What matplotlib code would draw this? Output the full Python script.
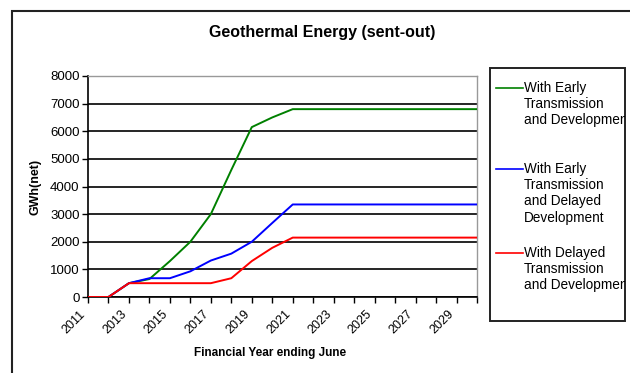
import matplotlib
matplotlib.use('Agg')
import matplotlib.pyplot as plt
from matplotlib.patches import Rectangle
from matplotlib.lines import Line2D

plt.rcParams['font.family'] = ['Liberation Sans', 'DejaVu Sans']

# data (GWh net, financial year ending June)
years = list(range(2011, 2031))
early_tx_early_dev = [0, 0, 500, 650, 1300, 2000, 3000, 4600, 6150, 6500, 6800,
                      6800, 6800, 6800, 6800, 6800, 6800, 6800, 6800, 6800]
early_tx_delayed_dev = [0, 0, 500, 680, 680, 930, 1320, 1570, 2000, 2680, 3350,
                        3350, 3350, 3350, 3350, 3350, 3350, 3350, 3350, 3350]
delayed_tx_delayed_dev = [0, 0, 500, 500, 500, 500, 500, 680, 1300, 1780, 2150,
                          2150, 2150, 2150, 2150, 2150, 2150, 2150, 2150, 2150]
series_labels = ['With Early\nTransmission\nand Development',
                 'With Early\nTransmission\nand Delayed\nDevelopment',
                 'With Delayed\nTransmission\nand Development']
series_colors = ['#008000', '#0000ff', '#ff0000']
tick_labels = [str(y) if (y - 2011) % 2 == 0 else '' for y in years]

W, H = 630, 373
def fx(px):
    return px / W
def fy(py):
    return 1 - py / H

fig = plt.figure(figsize=(6.3, 3.73), dpi=100)

# outer frame (left + top edges visible)
frame = Rectangle((fx(12), -0.1), 1.2, fy(11) + 0.1, transform=fig.transFigure,
                  fill=False, lw=1.5, ec='#222222')
fig.add_artist(frame)

ax = fig.add_axes([fx(88), fy(297), 389 / W, 221 / H])
xs = list(range(len(years)))
series = [early_tx_early_dev, early_tx_delayed_dev, delayed_tx_delayed_dev]
for vals, col in zip(series, series_colors):
    ax.plot(xs, vals, color=col, lw=1.4, zorder=3)

ax.set_xlim(0, len(years) - 1)
ax.set_ylim(0, 8000)
ax.set_yticks(range(0, 8001, 1000))
ax.set_xticks(xs)
ax.set_xticklabels(tick_labels, rotation=45, ha='right', fontsize=9)
ax.tick_params(direction='out', length=4, width=1, color='black')
ax.tick_params(axis='y', labelsize=9.5, pad=2)
ax.tick_params(axis='x', pad=4)

ax.yaxis.grid(True, color='black', lw=1.2)
ax.set_axisbelow(True)
ax.get_ygridlines()[-1].set_visible(False)
for s in ['left', 'bottom']:
    ax.spines[s].set_color('black')
    ax.spines[s].set_linewidth(1.2)
for s in ['top', 'right']:
    ax.spines[s].set_color('#999999')
    ax.spines[s].set_linewidth(1.0)

fig.text(fx(322), fy(33), 'Geothermal Energy (sent-out)', ha='center', va='center',
         fontsize=11.5, fontweight='bold')
fig.text(fx(35), fy(187), 'GWh(net)', rotation=90, ha='center', va='center',
         fontsize=9, fontweight='bold')
fig.text(fx(270), fy(353), 'Financial Year ending June', ha='center', va='center',
         fontsize=8.5, fontweight='bold')

# legend box drawn by hand (handle aligned with first text line)
leg = Rectangle((fx(490), fy(321)), 135 / W, (321 - 68) / H, transform=fig.transFigure,
                fill=False, lw=1.4, ec='#222222')
fig.add_artist(leg)
for lab, col, ytop in zip(series_labels, series_colors, [88, 169, 253]):
    fig.add_artist(Line2D([fx(496), fx(523)], [fy(ytop), fy(ytop)],
                          transform=fig.transFigure, color=col, lw=1.2))
    t = fig.text(fx(524), fy(ytop - 7), lab, ha='left', va='top', fontsize=9.8,
                 linespacing=1.2)
    t.set_clip_path(leg)

fig.savefig('out.png', dpi=100)
